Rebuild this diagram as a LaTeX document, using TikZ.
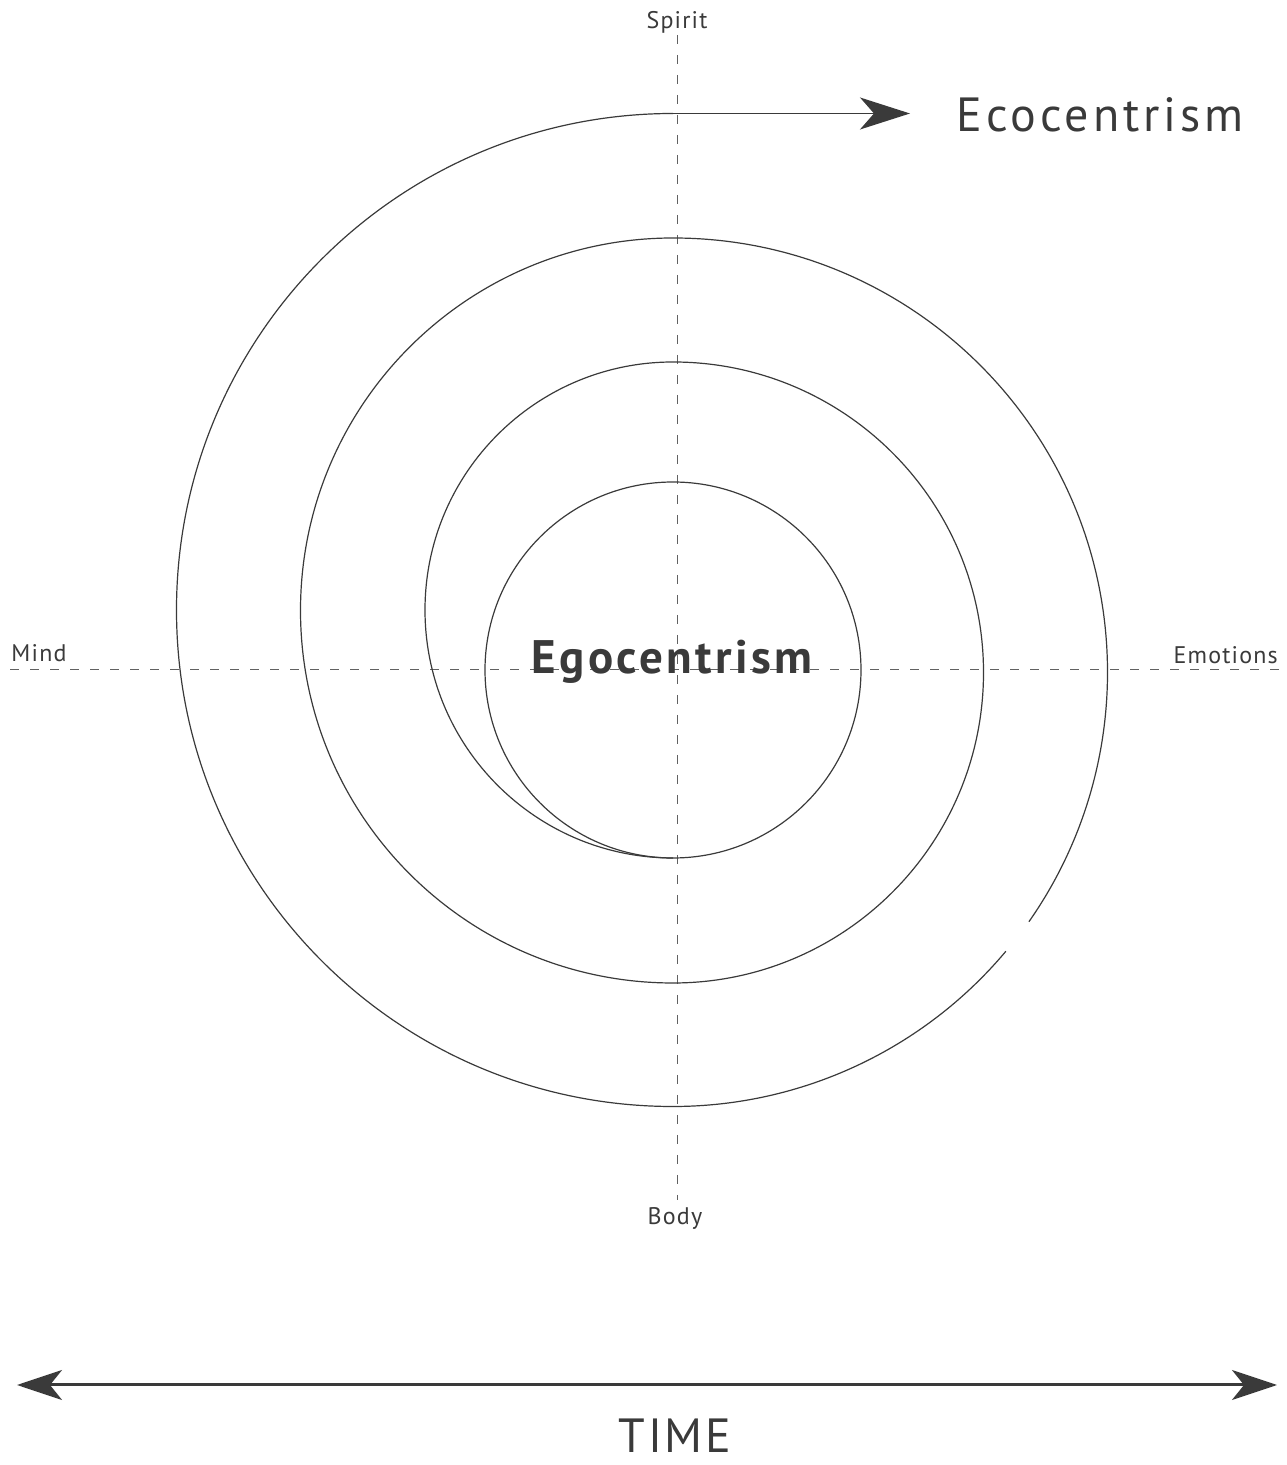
\documentclass[tikz,border=0pt]{standalone}
\usepackage{fontspec}
\setmainfont{PT Sans}
\usetikzlibrary{arrows.meta}
\definecolor{ink}{HTML}{3A3A3A}
\tikzset{
  spiralline/.style={draw=ink, line width=1.2pt},
  axisline/.style={draw=ink!80, line width=1pt, dash pattern=on 9pt off 11pt},
  smalllabel/.style={text=ink, font=\fontsize{24}{28}\selectfont\addfontfeatures{LetterSpace=5}, inner sep=0pt},
  biglabel/.style={text=ink, inner sep=0pt},
}
\begin{document}
\begin{tikzpicture}[x=1pt,y=1pt]
\useasboundingbox (0,0) rectangle (1287,1465);
% axes
\coordinate (hl) at (10,795);
\coordinate (hr) at (1280,795);
\coordinate (vt) at (677,1430);
\coordinate (vb) at (677,265);
\draw[axisline] (hl) -- (hr);
\draw[axisline] (vt) -- (vb);
% inner circle
\coordinate (cc) at (673,795);
\draw[spiralline] (cc) circle[radius=188pt];
% spiral
\coordinate (s0) at (673,607);
\coordinate (tip) at (910,1351.5);
\draw[spiralline] (s0) arc[start angle=270, end angle=90, radius=248pt]
  arc[start angle=90, end angle=-90, radius=310.5pt]
  arc[start angle=270, end angle=90, radius=372.5pt]
  arc[start angle=90, end angle=-35, radius=434.5pt];
\draw[spiralline] (673,793) ++(-40:434.5pt) coordinate (g1)
  arc[start angle=-40, end angle=-90, radius=434.5pt] coordinate (s4)
  arc[start angle=270, end angle=90, radius=496.5pt] coordinate (s5);
\draw[spiralline, -{Stealth[length=50pt, width=32pt, inset=14pt]}] (s5) -- (tip);
% labels
\node[smalllabel] (spirit) at (677,1443) {Spirit};
\node[smalllabel] (body) at (675,247) {Body};
\node[smalllabel] (mind) at (39,812) {Mind};
\node[smalllabel, anchor=east] (emo) at (1278,810) {Emotions};
\node[biglabel, font=\fontsize{48}{54}\selectfont\addfontfeatures{LetterSpace=8}] (eco) at (1100,1350) {Ecocentrism};
\node[biglabel, font=\bfseries\fontsize{47}{52}\selectfont\addfontfeatures{LetterSpace=7}] (ego) at (672,803) {Egocentrism};
% time axis
\coordinate (tl) at (17,80);
\coordinate (tr) at (1277,80);
\draw[draw=ink, line width=3pt, {Stealth[length=45pt, width=30pt, inset=12pt]}-{Stealth[length=45pt, width=30pt, inset=12pt]}] (tl) -- (tr);
\node[biglabel, font=\fontsize{48}{54}\selectfont\addfontfeatures{LetterSpace=6}] (time) at (675,29) {TIME};
\end{tikzpicture}
\end{document}
